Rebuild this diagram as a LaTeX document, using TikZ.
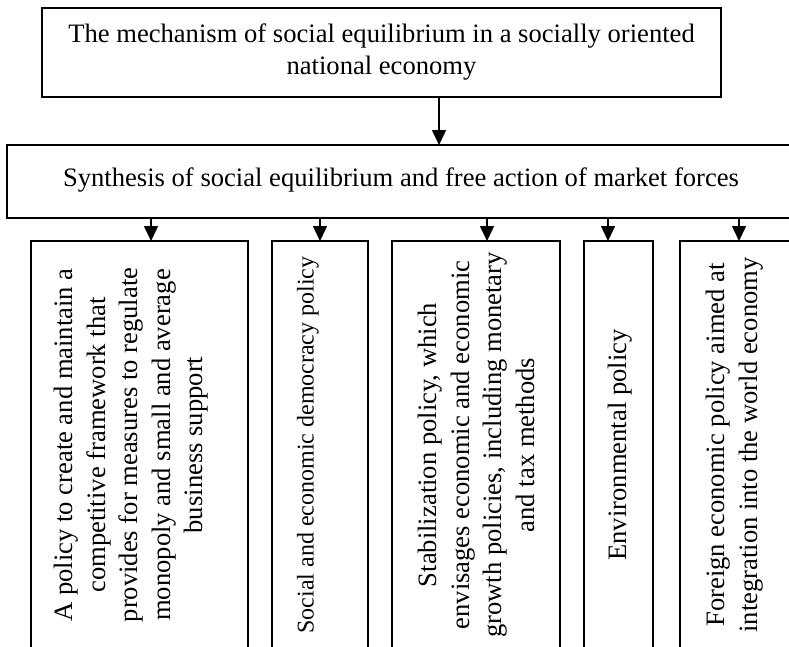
\documentclass[tikz,border=0pt]{standalone}
\usepackage{fontspec}
\setmainfont{Liberation Serif}
\usetikzlibrary{arrows.meta}
\begin{document}
\begin{tikzpicture}[x=1pt,y=-1pt,
  box/.style={draw, line width=1.5pt, inner sep=0pt, outer sep=0pt, anchor=north west},
  txt/.style={font=\fontsize{26.6}{32.5}\selectfont, align=center, inner sep=0pt},
  smalltxt/.style={font=\fontsize{24}{29}\selectfont, align=center, inner sep=0pt},
  arr/.style={line width=1.5pt, -{Triangle[length=15pt,width=14pt]}}]
\useasboundingbox (0,0) rectangle (789,646);
\clip (0,0) rectangle (789,646);
% boxes
\node[box, minimum width=679pt, minimum height=89pt] (top) at (42,8) {};
\node[box, minimum width=790pt, minimum height=73pt] (syn) at (7,145) {};
\node[box, minimum width=217pt, minimum height=430pt] (b1) at (31,241) {};
\node[box, minimum width=96pt, minimum height=430pt] (b2) at (272,241) {};
\node[box, minimum width=168pt, minimum height=430pt] (b3) at (392,241) {};
\node[box, minimum width=69pt, minimum height=430pt] (b4) at (584,241) {};
\node[box, minimum width=115pt, minimum height=430pt] (b5) at (680,241) {};
% texts
\node[txt] (toptext) at (381.5,52) {The mechanism of social equilibrium in a socially oriented\\national economy};
\node[txt, anchor=base] (syntext) at (401,186) {Synthesis of social equilibrium and free action of market forces};
\node[txt, rotate=90] (t1) at (131.5,445) {A policy to create and maintain a\\competitive framework that\\provides for measures to regulate\\monopoly and small and average\\business support};
\node[smalltxt, rotate=90] (t2) at (308,445) {Social and economic democracy policy};
\node[txt, rotate=90] (t3) at (476.5,445) {Stabilization policy, which\\envisages economic and economic\\growth policies, including monetary\\and tax methods};
\node[txt, rotate=90] (t4) at (620,445) {Environmental policy};
\node[txt, rotate=90] (t5) at (734.5,445) {Foreign economic policy aimed at\\integration into the world economy};
% arrow columns
\coordinate (a0) at (439,0);
\coordinate (a1) at (151,0);
\coordinate (a2) at (320,0);
\coordinate (a3) at (487,0);
\coordinate (a4) at (608,0);
\coordinate (a5) at (739,0);
\draw[arr] (top.south -| a0) -- (syn.north -| a0);
\draw[arr] (syn.south -| a1) -- (b1.north -| a1);
\draw[arr] (syn.south -| a2) -- (b2.north -| a2);
\draw[arr] (syn.south -| a3) -- (b3.north -| a3);
\draw[arr] (syn.south -| a4) -- (b4.north -| a4);
\draw[arr] (syn.south -| a5) -- (b5.north -| a5);
\end{tikzpicture}
\end{document}
